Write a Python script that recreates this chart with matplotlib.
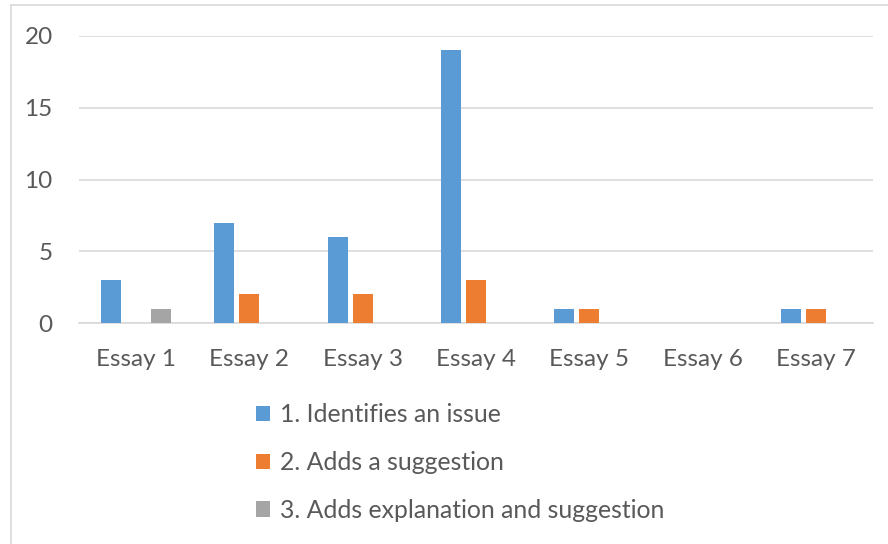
import matplotlib.pyplot as plt
import numpy as np

# data
essays = ["Essay 1", "Essay 2", "Essay 3", "Essay 4", "Essay 5", "Essay 6", "Essay 7"]
identifies = [3, 7, 6, 19, 1, 0, 1]
suggestion = [0, 2, 2, 3, 1, 0, 1]
explanation = [1, 0, 0, 0, 0, 0, 0]
series_names = ["1. Identifies an issue", "2. Adds a suggestion", "3. Adds explanation and suggestion"]
colors = ["#5B9BD5", "#ED7D31", "#A5A5A5"]

plt.rcParams['font.family'] = ['Lato', 'DejaVu Sans']
txt = "#595959"

fig = plt.figure(figsize=(8.88, 5.44), dpi=100)
ax = fig.add_axes([0.089, 0.406, 0.894, 0.528])

x = np.arange(len(essays))
w = 0.176
off = 0.22
for i, vals in enumerate([identifies, suggestion, explanation]):
    ax.bar(x + (i - 1) * off, vals, width=w, color=colors[i], label=series_names[i], zorder=3)

ax.set_xlim(-0.5, len(essays) - 0.5)
ax.set_ylim(0, 20)
ax.set_yticks([0, 5, 10, 15, 20])
ax.set_xticks(x)
ax.set_xticklabels(essays)
ax.grid(axis='y', color="#D9D9D9", linewidth=1.2, zorder=0)
ax.tick_params(length=0, labelsize=17.5, colors=txt)
ax.tick_params(axis='x', pad=18.5)
ax.tick_params(axis='y', pad=19)
for s in ['top', 'right', 'left']:
    ax.spines[s].set_visible(False)
ax.spines['bottom'].set_color("#D9D9D9")
ax.spines['bottom'].set_linewidth(1.2)

handles, labels = ax.get_legend_handles_labels()
leg = fig.legend(handles, labels, loc='upper left', bbox_to_anchor=(0.277, 0.277),
                 frameon=False, fontsize=17.8, handlelength=0.58, handleheight=0.58,
                 handletextpad=0.4, labelspacing=1.0, borderaxespad=0)
for t in leg.get_texts():
    t.set_color(txt)

# chart frame lines (left and top)
fig.add_artist(plt.Line2D([0.012, 0.012], [0, 0.99], color="#D9D9D9", linewidth=1.2))
fig.add_artist(plt.Line2D([0.012, 1.0], [0.99, 0.99], color="#D9D9D9", linewidth=1.2))

plt.savefig("out.png", dpi=100)
